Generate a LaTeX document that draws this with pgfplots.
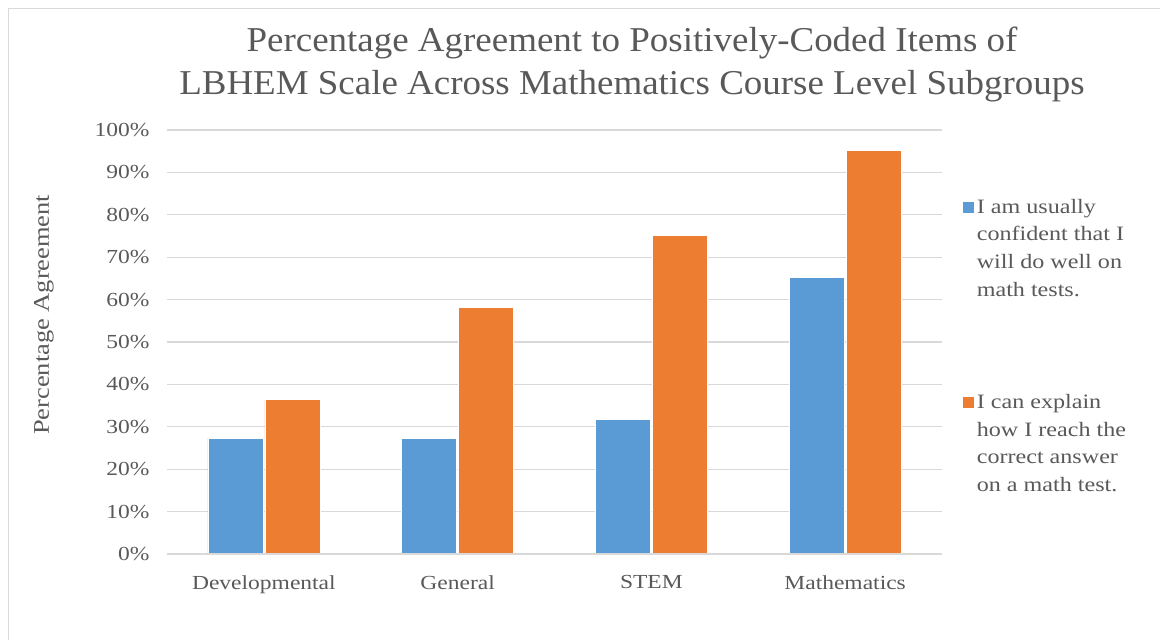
\documentclass[border=0pt]{standalone}
\usepackage{pgfplots}
\pgfplotsset{compat=1.18}
\usepackage{fontspec}
\setmainfont[FakeStretch=1.18]{Liberation Serif}
\newfontfamily\titlefont[FakeStretch=1.06]{Liberation Serif}
\definecolor{cblue}{HTML}{5B9BD5}
\definecolor{corange}{HTML}{ED7D31}
\definecolor{ctext}{HTML}{595959}
\definecolor{cgrid}{HTML}{D9D9D9}
\begin{document}
\begin{tikzpicture}
\useasboundingbox (0bp,0bp) rectangle (1160bp,640bp);
\draw[cgrid, line width=1.2bp] (8.5bp,-20bp) -- (8.5bp,631.5bp) -- (1180bp,631.5bp);
\node[text=ctext, font=\titlefont\fontsize{35}{43}\selectfont, align=center] at (632bp,575.5bp)
  {Percentage Agreement to Positively-Coded Items of\\LBHEM Scale Across Mathematics Course Level Subgroups};
\begin{axis}[
  at={(167bp,86bp)}, anchor=south west,
  scale only axis, width=775bp, height=424bp,
  xmin=-0.5, xmax=3.5, ymin=0, ymax=100,
  ybar, bar width=55bp,
  axis line style={draw=none},
  xtick={0,1,2,3},
  xticklabels={Developmental,General,STEM,Mathematics},
  ytick={0,10,...,100},
  yticklabel={\pgfmathprintnumber{\tick}\%},
  /pgf/number format/assume math mode=true,
  ymajorgrids, grid style={cgrid, line width=1.2bp},
  major tick length=0pt,
  tick label style={text=ctext, font=\fontsize{20}{24}\selectfont},
  yticklabel style={xshift=-14bp},
  xticklabel style={yshift=-18bp},
  ylabel={Percentage Agreement},
  every axis y label/.style={at={(rel axis cs:0,0.564)}, xshift=-123bp, rotate=90, anchor=center,
    text=ctext, font=\fontsize{22.5}{26}\selectfont},
  legend style={at={(axis cs:3.5,100)}, anchor=north west, xshift=20bp, yshift=-67bp,
    draw=none, fill=none, text=ctext, font=\fontsize{20.5}{27.7}\selectfont,
    row sep=93bp, inner sep=0pt},
  legend cell align=left,
  legend image code/.code={\fill[#1] (0bp,35.5bp) rectangle (12bp,47.5bp);},
]
\addplot[fill=cblue, draw=white, line width=0.6bp] coordinates {(0,27.3) (1,27.3) (2,31.8) (3,65.2)};
\addplot[fill=corange, draw=white, line width=0.6bp] coordinates {(0,36.4) (1,58.1) (2,75.1) (3,95.1)};
\draw[cgrid, line width=1.2bp] (axis cs:-0.5,0) -- (axis cs:3.5,0);
\addlegendentry[align=left]{I am usually\\confident that I\\will do well on\\math tests.}
\addlegendentry[align=left]{I can explain\\how I reach the\\correct answer\\on a math test.}
\end{axis}
\end{tikzpicture}
\end{document}
